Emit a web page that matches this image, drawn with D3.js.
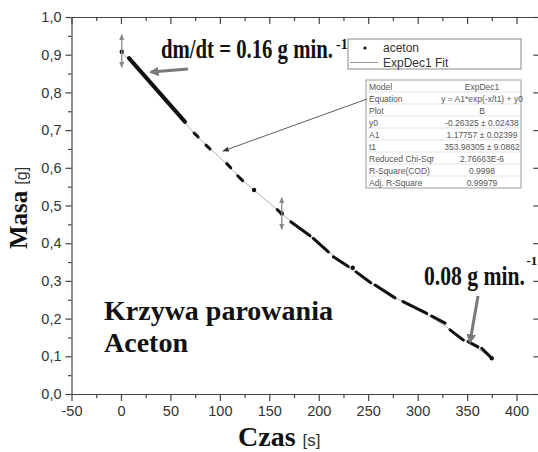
<!DOCTYPE html>
<html>
<head>
<meta charset="utf-8">
<script src="https://cdn.jsdelivr.net/npm/d3@7"></script>
<style>
  body { margin: 0; background: #fff; }
  svg { display: block; }
</style>
</head>
<body>
<script>
// ---- data (t in s, m in g) ----
// runs of densely sampled points (they show up as dashes)
var runT0 = [8.1, 74.0, 86.0, 107.0, 118.0, 158.0, 171.7, 194.5, 214.7, 237.7, 256.9, 285.2, 314.2, 332.7, 351.0, 364.8];
var runM0 = [0.891, 0.692, 0.660, 0.611, 0.579, 0.489, 0.457, 0.413, 0.364, 0.324, 0.289, 0.245, 0.207, 0.170, 0.139, 0.121];
var runT1 = [64.8, 78.0, 90.0, 111.0, 123.0, 161.0, 191.2, 209.7, 229.9, 252.6, 277.1, 309.2, 327.7, 346.2, 361.0, 374.9];
var runM1 = [0.722, 0.682, 0.650, 0.600, 0.566, 0.482, 0.420, 0.377, 0.338, 0.295, 0.255, 0.214, 0.188, 0.143, 0.125, 0.095];
// single points
var dotT = [0.8, 134.6, 162.6, 234.4, 374.9];
var dotM = [0.908, 0.541, 0.479, 0.335, 0.095];
// ExpDec1 fit curve
var fitT = [0, 25, 50, 75, 100, 125, 150, 175, 200, 225, 250, 275, 300, 325, 350, 375];
var fitM = [0.908, 0.841, 0.766, 0.689, 0.627, 0.563, 0.507, 0.451, 0.400, 0.346, 0.300, 0.259, 0.224, 0.185, 0.140, 0.095];

var xTicks = [-50, 0, 50, 100, 150, 200, 250, 300, 350, 400];
var xMinor = [-25, 25, 75, 125, 175, 225, 275, 325, 375, 425];
var yTicks = [0, 0.1, 0.2, 0.3, 0.4, 0.5, 0.6, 0.7, 0.8, 0.9, 1.0];
var yMinor = [0.05, 0.15, 0.25, 0.35, 0.45, 0.55, 0.65, 0.75, 0.85, 0.95];

var tableNames = ['Model', 'Equation', 'Plot', 'y0', 'A1', 't1', 'Reduced Chi-Sqr', 'R-Square(COD)', 'Adj. R-Square'];
var tableValues = ['ExpDec1', 'y = A1*exp(-x/t1) + y0', 'B', '-0.26325 \u00b1 0.02438', '1.17757 \u00b1 0.02399',
                   '353.98305 \u00b1 9.0862', '2.76663E-6', '0.9998', '0.99979'];

var W = 538, H = 452;
var svg = d3.select('body').append('svg').attr('width', W).attr('height', H);

var x = d3.scaleLinear().domain([-50, 422]).range([71.5, 538.3]);
var y = d3.scaleLinear().domain([0, 1]).range([394, 17]);

var comma = function(d) { return d3.format('.1f')(d).replace('.', ','); };
var plain = function(d) { return String(d); };

var serif = '"Liberation Serif", "Times New Roman", serif';
var sans = '"Liberation Sans", Arial, sans-serif';

// ------------------ markers ------------------
var defs = svg.append('defs');
defs.append('marker').attr('id', 'grayHead').attr('viewBox', '0 0 10 10').attr('refX', 8).attr('refY', 5)
    .attr('markerWidth', 3.2).attr('markerHeight', 3.2).attr('orient', 'auto-start-reverse').attr('markerUnits', 'strokeWidth')
  .append('path').attr('d', 'M0,0 L10,5 L0,10 z').attr('fill', '#7a7a7a');
defs.append('marker').attr('id', 'smallHead').attr('viewBox', '0 0 10 10').attr('refX', 8).attr('refY', 5)
    .attr('markerWidth', 5).attr('markerHeight', 5).attr('orient', 'auto-start-reverse').attr('markerUnits', 'strokeWidth')
  .append('path').attr('d', 'M0,1 L10,5 L0,9 z').attr('fill', '#8a8a8a');
defs.append('marker').attr('id', 'blackHead').attr('viewBox', '0 0 10 10').attr('refX', 9).attr('refY', 5)
    .attr('markerWidth', 10).attr('markerHeight', 8).attr('orient', 'auto').attr('markerUnits', 'strokeWidth')
  .append('path').attr('d', 'M0,1 L10,5 L0,9 z').attr('fill', '#333');

// ------------------ axes ------------------
function styleAxis(g) {
  g.selectAll('path, line').attr('stroke', '#444').attr('stroke-width', 1.2);
  g.selectAll('text').attr('fill', '#333').style('font-family', sans).style('font-size', '14.5px');
}

svg.append('g').attr('transform', 'translate(0,394)')
   .call(d3.axisBottom(x).tickValues(xTicks).tickSize(7).tickSizeOuter(0).tickPadding(5).tickFormat(plain)).call(styleAxis);
svg.append('g').attr('transform', 'translate(0,394)')
   .call(d3.axisBottom(x).tickValues(xMinor).tickSize(4).tickFormat('')).call(styleAxis)
   .select('.domain').remove();
svg.append('g').attr('transform', 'translate(0,17)')
   .call(d3.axisBottom(x).tickValues(xTicks).tickSize(7).tickSizeOuter(0).tickFormat('')).call(styleAxis);
svg.append('g').attr('transform', 'translate(0,17)')
   .call(d3.axisBottom(x).tickValues(xMinor).tickSize(4).tickFormat('')).call(styleAxis)
   .select('.domain').remove();

svg.append('g').attr('transform', 'translate(71.5,0)')
   .call(d3.axisLeft(y).tickValues(yTicks).tickSize(6).tickSizeOuter(0).tickPadding(4).tickFormat(comma)).call(styleAxis);
svg.append('g').attr('transform', 'translate(71.5,0)')
   .call(d3.axisLeft(y).tickValues(yMinor).tickSize(3.5).tickFormat('')).call(styleAxis)
   .select('.domain').remove();
svg.append('g').attr('transform', 'translate(538.3,0)')
   .call(d3.axisLeft(y).tickValues(yTicks).tickSize(5).tickSizeOuter(0).tickFormat('')).call(styleAxis);

// ------------------ fit line ------------------
var fitLine = d3.line().x(function(d, i) { return x(fitT[i]); }).y(function(d) { return y(d); }).curve(d3.curveMonotoneX);
svg.append('path').attr('d', fitLine(fitM)).attr('fill', 'none').attr('stroke', '#b0b0b0').attr('stroke-width', 1);

// ------------------ data: dashes + dots ------------------
svg.selectAll('.run').data(runT0).enter().append('line').attr('class', 'run')
   .attr('x1', function(d) { return x(d); })
   .attr('y1', function(d, i) { return y(runM0[i]); })
   .attr('x2', function(d, i) { return x(runT1[i]); })
   .attr('y2', function(d, i) { return y(runM1[i]); })
   .attr('stroke', '#111').attr('stroke-linecap', 'round')
   .attr('stroke-width', function(d, i) { return i === 0 ? 4 : 3; });

svg.selectAll('.dot').data(dotT).enter().append('circle').attr('class', 'dot')
   .attr('cx', function(d) { return x(d); })
   .attr('cy', function(d, i) { return y(dotM[i]); })
   .attr('r', 2.2).attr('fill', '#111');

// ------------------ double arrows (error markers) ------------------
svg.append('line').attr('x1', x(0.8)).attr('x2', x(0.8)).attr('y1', 35).attr('y2', 67)
   .attr('stroke', '#8a8a8a').attr('stroke-width', 1.3)
   .attr('marker-start', 'url(#smallHead)').attr('marker-end', 'url(#smallHead)');
svg.append('line').attr('x1', x(162.6)).attr('x2', x(162.6)).attr('y1', 198).attr('y2', 229)
   .attr('stroke', '#8a8a8a').attr('stroke-width', 1.3)
   .attr('marker-start', 'url(#smallHead)').attr('marker-end', 'url(#smallHead)');

// ------------------ annotations ------------------
// condensed bold serif: squeeze to the width measured in the picture
function condensed(px, py, size, width, str) {
  var t = svg.append('text').style('font-family', serif).style('font-weight', 'bold')
     .style('font-size', size + 'px').attr('fill', '#111').text(str);
  var k = width / t.node().getComputedTextLength();
  t.attr('transform', 'translate(' + px + ',' + py + ') scale(' + k + ',1)');
  return t;
}
condensed(161, 58, 27, 172, 'dm/dt = 0.16 g min.');
svg.append('text').attr('x', 336).attr('y', 49).style('font-family', serif).style('font-weight', 'bold')
   .style('font-size', '14px').attr('fill', '#111').text('-1');

svg.append('line').attr('x1', 188).attr('y1', 69).attr('x2', 151).attr('y2', 72)
   .attr('stroke', '#7a7a7a').attr('stroke-width', 3).attr('marker-end', 'url(#grayHead)');

condensed(424, 285, 28, 101, '0.08 g min.');
svg.append('text').attr('x', 526.5).attr('y', 265).style('font-family', serif).style('font-weight', 'bold')
   .style('font-size', '13px').attr('fill', '#111').text('-1');

svg.append('line').attr('x1', 478).attr('y1', 296).attr('x2', 470).attr('y2', 342)
   .attr('stroke', '#7a7a7a').attr('stroke-width', 3).attr('marker-end', 'url(#grayHead)');

svg.append('text').attr('x', 104).attr('y', 320).style('font-family', serif).style('font-weight', 'bold')
   .style('font-size', '28px').attr('fill', '#111').text('Krzywa parowania');
svg.append('text').attr('x', 104).attr('y', 352).style('font-family', serif).style('font-weight', 'bold')
   .style('font-size', '28px').attr('fill', '#111').text('Aceton');

// axis titles
var yl = svg.append('text').attr('transform', 'translate(27,249) rotate(-90)').attr('fill', '#111');
yl.append('tspan').style('font-family', serif).style('font-weight', 'bold').style('font-size', '25px').text('Masa');
yl.append('tspan').attr('dx', 6).style('font-family', sans).style('font-size', '16px')
  .attr('fill', '#333').text('[g]');

var xl = svg.append('text').attr('x', 238).attr('y', 446).attr('fill', '#111');
xl.append('tspan').style('font-family', serif).style('font-weight', 'bold').style('font-size', '28px').text('Czas');
xl.append('tspan').attr('dx', 7).style('font-family', sans).style('font-size', '17px')
  .attr('fill', '#333').text('[s]');

// ------------------ legend ------------------
var leg = svg.append('g');
leg.append('rect').attr('x', 348).attr('y', 39).attr('width', 173).attr('height', 30)
   .attr('fill', '#fff').attr('stroke', '#888').attr('stroke-width', 1);
leg.append('circle').attr('cx', 365).attr('cy', 48).attr('r', 1.6).attr('fill', '#111');
leg.append('text').attr('x', 383).attr('y', 52).style('font-family', sans).style('font-size', '12px').attr('fill', '#333').text('aceton');
leg.append('line').attr('x1', 350).attr('x2', 378).attr('y1', 62.5).attr('y2', 62.5).attr('stroke', '#999').attr('stroke-width', 1);
leg.append('text').attr('x', 383).attr('y', 66.5).style('font-family', sans).style('font-size', '12px').attr('fill', '#333').text('ExpDec1 Fit');

// ------------------ fit table ------------------
var rowH = 12, tx = 366, ty = 80, tw = 155;
var tab = svg.append('g');
tab.append('rect').attr('x', tx).attr('y', ty).attr('width', tw).attr('height', rowH * tableNames.length)
   .attr('fill', '#fff').attr('stroke', '#999').attr('stroke-width', 1);
tab.selectAll('.sep').data(tableNames.slice(1)).enter().append('line').attr('class', 'sep')
   .attr('x1', tx).attr('x2', tx + tw)
   .attr('y1', function(d, i) { return ty + rowH * (i + 1); })
   .attr('y2', function(d, i) { return ty + rowH * (i + 1); })
   .attr('stroke', '#ddd').attr('stroke-width', 0.8);
tab.selectAll('.nm').data(tableNames).enter().append('text').attr('class', 'nm')
   .attr('x', tx + 3).attr('y', function(d, i) { return ty + rowH * i + 9.5; })
   .style('font-family', sans).style('font-size', '8.5px').attr('fill', '#555').text(function(d) { return d; });
tab.selectAll('.vl').data(tableValues).enter().append('text').attr('class', 'vl')
   .attr('x', 482).attr('y', function(d, i) { return ty + rowH * i + 9.5; }).attr('text-anchor', 'middle')
   .style('font-family', sans).style('font-size', '8.5px').attr('fill', '#555').text(function(d) { return d; });

// pointer from table to curve
svg.append('line').attr('x1', 367).attr('y1', 99).attr('x2', 223).attr('y2', 151)
   .attr('stroke', '#333').attr('stroke-width', 0.8).attr('marker-end', 'url(#blackHead)');
</script>
</body>
</html>
